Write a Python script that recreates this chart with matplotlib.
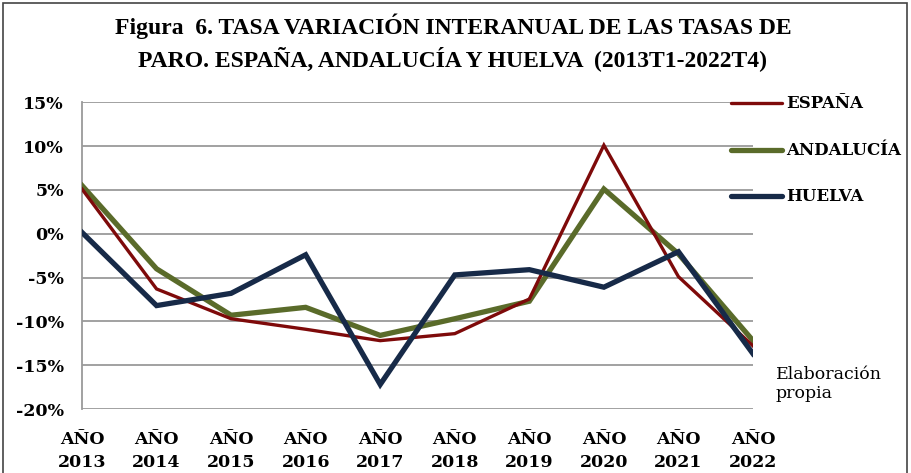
import matplotlib
matplotlib.use("Agg")
import matplotlib.pyplot as plt
from matplotlib.patches import Rectangle
from matplotlib.lines import Line2D

years = ["AÑO\n2013", "AÑO\n2014", "AÑO\n2015", "AÑO\n2016", "AÑO\n2017",
         "AÑO\n2018", "AÑO\n2019", "AÑO\n2020", "AÑO\n2021", "AÑO\n2022"]
espana = [5.1, -6.3, -9.7, -10.9, -12.2, -11.4, -7.45, 10.1, -4.9, -12.8]
andalucia = [5.5, -4.0, -9.3, -8.4, -11.6, -9.7, -7.7, 5.1, -2.3, -12.2]
huelva = [0.15, -8.2, -6.8, -2.4, -17.2, -4.7, -4.1, -6.1, -2.05, -13.7]
yticks = [15, 10, 5, 0, -5, -10, -15, -20]

c_es = "#7E0A0A"
c_an = "#5A6B2A"
c_hu = "#172A48"
serif = ["Liberation Serif", "DejaVu Serif"]

fig = plt.figure(figsize=(9.12, 4.73), dpi=100)
fig.patch.set_facecolor("white")
fig.add_artist(Rectangle((3 / 912, -0.05), 904 / 912, 1.05 - 3 / 473,
                         transform=fig.transFigure, fill=False,
                         edgecolor="#444444", linewidth=1.2))

ax = fig.add_axes([82 / 912, 1 - 409 / 473, (753 - 82) / 912, (409 - 102.3) / 473])
x = list(range(len(years)))
ax.plot(x, andalucia, color=c_an, lw=3.8, solid_joinstyle="miter", zorder=3)
ax.plot(x, espana, color=c_es, lw=2.4, solid_joinstyle="miter", zorder=4)
ax.plot(x, huelva, color=c_hu, lw=3.8, solid_joinstyle="miter", zorder=5)

ax.set_xlim(0, len(years) - 1)
ax.set_ylim(-20, 15)
ax.set_yticks(yticks)
ax.set_yticklabels([f"{v}%" for v in yticks], fontfamily="DejaVu Serif",
                   fontweight="bold", fontsize=12.5)
ax.set_xticks(x)
ax.set_xticklabels(years, fontfamily="DejaVu Serif", fontweight="bold", fontsize=12.5,
                   linespacing=1.45)
ax.tick_params(axis="both", length=0)
ax.tick_params(axis="y", pad=13)
ax.tick_params(axis="x", pad=16)
ax.grid(axis="y", color="#9a9a9a", lw=1.3)
ax.set_axisbelow(True)
for s in ["top", "right", "bottom"]:
    ax.spines[s].set_visible(False)
ax.spines["left"].set_color("#9a9a9a")
ax.spines["left"].set_linewidth(1.3)

# legend
leg = [("ESPAÑA", c_es, 2.4, 103), ("ANDALUCÍA", c_an, 3.8, 150), ("HUELVA", c_hu, 3.8, 196)]
for name, col, lw, ypx in leg:
    yf = 1 - ypx / 473
    fig.add_artist(Line2D([731 / 912, 782 / 912], [yf, yf], color=col, lw=lw,
                          transform=fig.transFigure, solid_capstyle="round"))
    fig.text(786 / 912, yf, name, fontfamily="DejaVu Serif", fontweight="bold",
             fontsize=12, va="center", ha="left")

fig.text(776 / 912, 1 - 384 / 473, "Elaboración\npropia", fontfamily="DejaVu Serif",
         fontsize=12.5, va="center", ha="left", linespacing=1.15)

fig.text(453 / 912, 1 - 42 / 473,
         "Figura  6. TASA VARIACIÓN INTERANUAL DE LAS TASAS DE\nPARO. ESPAÑA, ANDALUCÍA Y HUELVA  (2013T1-2022T4)",
         fontfamily=serif, fontweight="bold", fontsize=17, ha="center", va="center",
         linespacing=1.35)

fig.savefig("out.png", dpi=100)
